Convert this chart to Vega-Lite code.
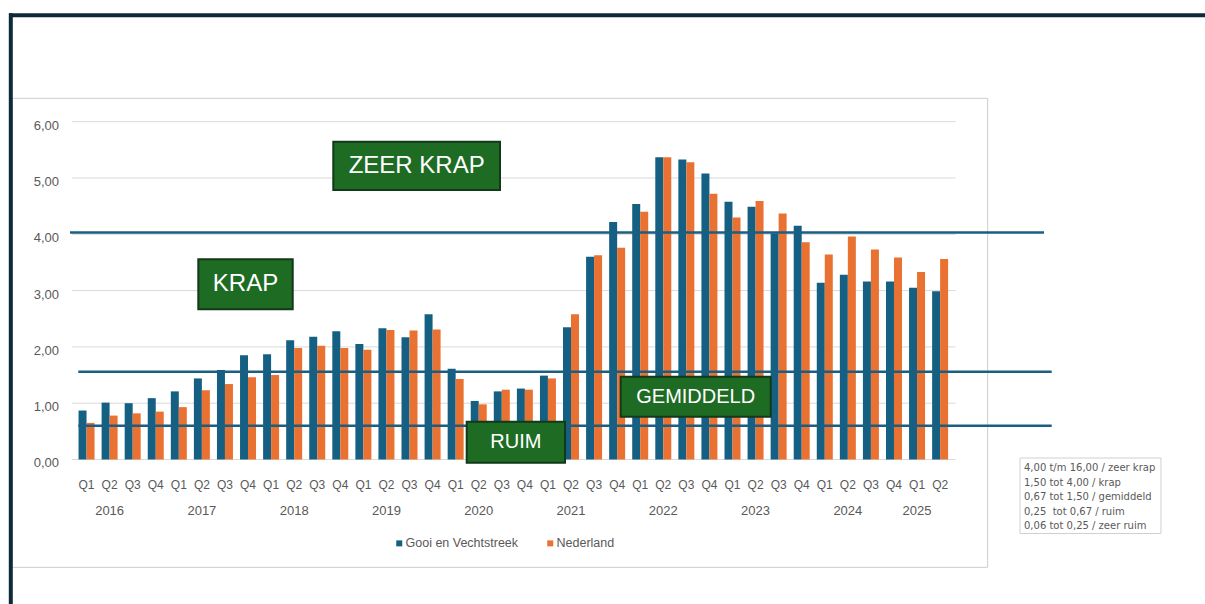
{
  "$schema": "https://vega.github.io/schema/vega-lite/v6.json",
  "width": 1205,
  "height": 604,
  "autosize": "none",
  "padding": 0,
  "background": "#ffffff",
  "config": {
    "view": {"stroke": null},
    "font": "Liberation Sans",
    "axis": {"zindex": 1},
    "locale": {"number": {"decimal": ",", "thousands": ".", "grouping": [3], "currency": ["€", ""]}}
  },
  "datasets": {
    "bars": [
      {"period": "2016 Q1", "series": "Gooi en Vechtstreek", "value": 0.87}, {"period": "2016 Q1", "series": "Nederland", "value": 0.65},
      {"period": "2016 Q2", "series": "Gooi en Vechtstreek", "value": 1.01}, {"period": "2016 Q2", "series": "Nederland", "value": 0.78},
      {"period": "2016 Q3", "series": "Gooi en Vechtstreek", "value": 1.00}, {"period": "2016 Q3", "series": "Nederland", "value": 0.82},
      {"period": "2016 Q4", "series": "Gooi en Vechtstreek", "value": 1.09}, {"period": "2016 Q4", "series": "Nederland", "value": 0.85},
      {"period": "2017 Q1", "series": "Gooi en Vechtstreek", "value": 1.21}, {"period": "2017 Q1", "series": "Nederland", "value": 0.93},
      {"period": "2017 Q2", "series": "Gooi en Vechtstreek", "value": 1.44}, {"period": "2017 Q2", "series": "Nederland", "value": 1.23},
      {"period": "2017 Q3", "series": "Gooi en Vechtstreek", "value": 1.59}, {"period": "2017 Q3", "series": "Nederland", "value": 1.34},
      {"period": "2017 Q4", "series": "Gooi en Vechtstreek", "value": 1.85}, {"period": "2017 Q4", "series": "Nederland", "value": 1.46},
      {"period": "2018 Q1", "series": "Gooi en Vechtstreek", "value": 1.87}, {"period": "2018 Q1", "series": "Nederland", "value": 1.50},
      {"period": "2018 Q2", "series": "Gooi en Vechtstreek", "value": 2.12}, {"period": "2018 Q2", "series": "Nederland", "value": 1.98},
      {"period": "2018 Q3", "series": "Gooi en Vechtstreek", "value": 2.18}, {"period": "2018 Q3", "series": "Nederland", "value": 2.02},
      {"period": "2018 Q4", "series": "Gooi en Vechtstreek", "value": 2.28}, {"period": "2018 Q4", "series": "Nederland", "value": 1.98},
      {"period": "2019 Q1", "series": "Gooi en Vechtstreek", "value": 2.05}, {"period": "2019 Q1", "series": "Nederland", "value": 1.95},
      {"period": "2019 Q2", "series": "Gooi en Vechtstreek", "value": 2.33}, {"period": "2019 Q2", "series": "Nederland", "value": 2.30},
      {"period": "2019 Q3", "series": "Gooi en Vechtstreek", "value": 2.17}, {"period": "2019 Q3", "series": "Nederland", "value": 2.29},
      {"period": "2019 Q4", "series": "Gooi en Vechtstreek", "value": 2.58}, {"period": "2019 Q4", "series": "Nederland", "value": 2.31},
      {"period": "2020 Q1", "series": "Gooi en Vechtstreek", "value": 1.61}, {"period": "2020 Q1", "series": "Nederland", "value": 1.43},
      {"period": "2020 Q2", "series": "Gooi en Vechtstreek", "value": 1.04}, {"period": "2020 Q2", "series": "Nederland", "value": 0.98},
      {"period": "2020 Q3", "series": "Gooi en Vechtstreek", "value": 1.21}, {"period": "2020 Q3", "series": "Nederland", "value": 1.24},
      {"period": "2020 Q4", "series": "Gooi en Vechtstreek", "value": 1.26}, {"period": "2020 Q4", "series": "Nederland", "value": 1.24},
      {"period": "2021 Q1", "series": "Gooi en Vechtstreek", "value": 1.49}, {"period": "2021 Q1", "series": "Nederland", "value": 1.44},
      {"period": "2021 Q2", "series": "Gooi en Vechtstreek", "value": 2.35}, {"period": "2021 Q2", "series": "Nederland", "value": 2.58},
      {"period": "2021 Q3", "series": "Gooi en Vechtstreek", "value": 3.60}, {"period": "2021 Q3", "series": "Nederland", "value": 3.63},
      {"period": "2021 Q4", "series": "Gooi en Vechtstreek", "value": 4.22}, {"period": "2021 Q4", "series": "Nederland", "value": 3.76},
      {"period": "2022 Q1", "series": "Gooi en Vechtstreek", "value": 4.54}, {"period": "2022 Q1", "series": "Nederland", "value": 4.40},
      {"period": "2022 Q2", "series": "Gooi en Vechtstreek", "value": 5.37}, {"period": "2022 Q2", "series": "Nederland", "value": 5.37},
      {"period": "2022 Q3", "series": "Gooi en Vechtstreek", "value": 5.33}, {"period": "2022 Q3", "series": "Nederland", "value": 5.28},
      {"period": "2022 Q4", "series": "Gooi en Vechtstreek", "value": 5.08}, {"period": "2022 Q4", "series": "Nederland", "value": 4.72},
      {"period": "2023 Q1", "series": "Gooi en Vechtstreek", "value": 4.58}, {"period": "2023 Q1", "series": "Nederland", "value": 4.30},
      {"period": "2023 Q2", "series": "Gooi en Vechtstreek", "value": 4.49}, {"period": "2023 Q2", "series": "Nederland", "value": 4.59},
      {"period": "2023 Q3", "series": "Gooi en Vechtstreek", "value": 4.02}, {"period": "2023 Q3", "series": "Nederland", "value": 4.37},
      {"period": "2023 Q4", "series": "Gooi en Vechtstreek", "value": 4.15}, {"period": "2023 Q4", "series": "Nederland", "value": 3.86},
      {"period": "2024 Q1", "series": "Gooi en Vechtstreek", "value": 3.14}, {"period": "2024 Q1", "series": "Nederland", "value": 3.64},
      {"period": "2024 Q2", "series": "Gooi en Vechtstreek", "value": 3.28}, {"period": "2024 Q2", "series": "Nederland", "value": 3.96},
      {"period": "2024 Q3", "series": "Gooi en Vechtstreek", "value": 3.16}, {"period": "2024 Q3", "series": "Nederland", "value": 3.73},
      {"period": "2024 Q4", "series": "Gooi en Vechtstreek", "value": 3.16}, {"period": "2024 Q4", "series": "Nederland", "value": 3.59},
      {"period": "2025 Q1", "series": "Gooi en Vechtstreek", "value": 3.05}, {"period": "2025 Q1", "series": "Nederland", "value": 3.33},
      {"period": "2025 Q2", "series": "Gooi en Vechtstreek", "value": 2.99}, {"period": "2025 Q2", "series": "Nederland", "value": 3.56}
    ],
    "thresholds": [
      {"x": -0.217, "x2": 42.003, "y": 4.03},
      {"x": 0.143, "x2": 42.336, "y": 1.56},
      {"x": 0.143, "x2": 42.336, "y": 0.60}
    ],
    "boxes": [
      {"label": "ZEER KRAP", "x": 11.196, "x2": 18.422, "y": 5.645, "y2": 4.787, "tx": 14.809, "ty": 5.216},
      {"label": "KRAP", "x": 5.345, "x2": 9.437, "y": 3.556, "y2": 2.668, "tx": 7.391, "ty": 3.112},
      {"label": "GEMIDDELD", "x": 23.654, "x2": 30.156, "y": 1.471, "y2": 0.760, "tx": 26.905, "ty": 1.115},
      {"label": "RUIM", "x": 16.979, "x2": 21.240, "y": 0.671, "y2": -0.057, "tx": 19.11, "ty": 0.307}
    ],
    "grid": [{"v": 0}, {"v": 1}, {"v": 2}, {"v": 3}, {"v": 4}, {"v": 5}, {"v": 6}],
    "one": [{"text": "4,00 t/m 16,00 / zeer krap\n1,50 tot 4,00 / krap\n0,67 tot 1,50 / gemiddeld\n0,25\u00a0 tot 0,67 / ruim\n0,06 tot 0,25 / zeer ruim"}]
  },
  "layer": [
    {
      "layer": [
        {
          "data": {"name": "one"},
          "mark": {"type": "rect", "fill": "transparent", "stroke": "#cdcdcd", "strokeWidth": 1},
          "encoding": {
            "x": {"datum": -2.731, "type": "quantitative", "scale": {"type": "linear", "domain": [-3.251, 48.9814], "nice": false, "zero": false}, "axis": null},
            "x2": {"datum": 39.561},
            "y": {"datum": 6.416, "type": "quantitative", "scale": {"domain": [-2.5666, 8.1616], "nice": false, "zero": false}, "axis": null},
            "y2": {"datum": -1.915}
          }
        },
        {
          "data": {"name": "one"},
          "mark": {"type": "rule", "stroke": "#0d2a3a", "strokeWidth": 4},
          "encoding": {
            "x": {"datum": -2.861, "type": "quantitative", "scale": {"type": "linear", "domain": [-3.251, 48.9814], "nice": false, "zero": false}, "axis": null},
            "x2": {"datum": 48.9814},
            "y": {"datum": 7.89, "type": "quantitative", "scale": {"domain": [-2.5666, 8.1616], "nice": false, "zero": false}, "axis": null}
          }
        },
        {
          "data": {"name": "one"},
          "mark": {"type": "rule", "stroke": "#0d2a3a", "strokeWidth": 4},
          "encoding": {
            "x": {"datum": -2.783, "type": "quantitative", "scale": {"type": "linear", "domain": [-3.251, 48.9814], "nice": false, "zero": false}, "axis": null},
            "y": {"datum": 7.925, "type": "quantitative", "scale": {"domain": [-2.5666, 8.1616], "nice": false, "zero": false}, "axis": null},
            "y2": {"datum": -2.5666}
          }
        },
        {
          "data": {"name": "grid"},
          "mark": {"type": "rule", "stroke": "#d9d9d9", "strokeWidth": 1},
          "encoding": {
            "x": {"datum": -0.13, "type": "quantitative", "scale": {"type": "linear", "domain": [-3.251, 48.9814], "nice": false, "zero": false}, "axis": null},
            "x2": {"datum": 38.17},
            "y": {"field": "v", "type": "quantitative", "scale": {"domain": [-2.5666, 8.1616], "nice": false, "zero": false}, "axis": null}
          }
        },
        {
          "data": {"name": "grid"},
          "mark": {"type": "text", "align": "right", "baseline": "middle", "dy": 4, "fontSize": 13, "color": "#595959"},
          "encoding": {
            "x": {"datum": -0.6935, "type": "quantitative", "scale": {"type": "linear", "domain": [-3.251, 48.9814], "nice": false, "zero": false}, "axis": null},
            "y": {"field": "v", "type": "quantitative", "scale": {"domain": [-2.5666, 8.1616], "nice": false, "zero": false}, "axis": null},
            "text": {"field": "v", "type": "quantitative", "format": ".2f"}
          }
        }
      ]
    },
    {
      "layer": [
        {
          "data": {"name": "bars"},
          "mark": {"type": "bar"},
          "encoding": {
            "x": {
              "field": "period", "type": "nominal",
              "scale": {"type": "band", "range": [75, 951.66], "paddingInner": 0, "paddingOuter": 0, "round": false},
              "axis": {"orient": "bottom", "offset": -144.5, "labelExpr": "slice(datum.value, 5)", "ticks": false, "domain": false, "grid": false, "title": null, "labelPadding": 20, "labelFontSize": 12, "labelColor": "#595959", "labelAngle": 0}
            },
            "xOffset": {"field": "series", "type": "nominal", "scale": {"paddingInner": 0, "paddingOuter": 0.4425}},
            "y": {
              "field": "value", "type": "quantitative",
              "scale": {"domain": [-2.5666, 8.1616], "nice": false, "zero": false},
              "axis": null
            },
            "y2": {"datum": 0},
            "color": {
              "field": "series", "type": "nominal",
              "scale": {"domain": ["Gooi en Vechtstreek", "Nederland"], "range": ["#156082", "#E97132"]},
              "legend": {"orient": "none", "legendX": 393, "legendY": 537, "direction": "horizontal", "title": null, "symbolType": "square", "symbolSize": 36, "symbolStrokeWidth": 0, "labelFontSize": 12.5, "labelColor": "#595959", "labelOffset": 0, "columnPadding": 25, "padding": 0}
            }
          }
        },
        {
          "data": {"name": "bars"},
          "mark": {"type": "tick", "opacity": 0},
          "encoding": {
            "x": {
              "field": "period", "type": "nominal",
              "scale": {"type": "band", "range": [75, 951.66], "paddingInner": 0, "paddingOuter": 0, "round": false},
              "axis": {"orient": "bottom", "offset": -144.5, "values": ["2016 Q2", "2017 Q2", "2018 Q2", "2019 Q2", "2020 Q2", "2021 Q2", "2022 Q2", "2023 Q2", "2024 Q2", "2025 Q1"], "bandPosition": 1, "labelExpr": "slice(datum.value, 0, 4)", "ticks": false, "domain": false, "grid": false, "title": null, "labelPadding": 45, "labelFontSize": 13, "labelColor": "#595959", "labelAngle": 0}
            }
          }
        }
      ],
      "resolve": {"axis": {"x": "independent"}}
    },
    {
      "layer": [
        {
          "data": {"name": "thresholds"},
          "mark": {"type": "rule", "stroke": "#1a5f82", "strokeWidth": 2.5},
          "encoding": {
            "x": {"field": "x", "type": "quantitative", "scale": {"type": "linear", "domain": [-3.251, 48.9814], "nice": false, "zero": false}, "axis": null},
            "x2": {"field": "x2"},
            "y": {"field": "y", "type": "quantitative", "scale": {"domain": [-2.5666, 8.1616], "nice": false, "zero": false}, "axis": null}
          }
        },
        {
          "data": {"name": "boxes"},
          "mark": {"type": "rect", "fill": "#1e6b24", "stroke": "#11391a", "strokeWidth": 2},
          "encoding": {
            "x": {"field": "x", "type": "quantitative", "scale": {"type": "linear", "domain": [-3.251, 48.9814], "nice": false, "zero": false}, "axis": null},
            "x2": {"field": "x2"},
            "y": {"field": "y", "type": "quantitative", "scale": {"domain": [-2.5666, 8.1616], "nice": false, "zero": false}, "axis": null},
            "y2": {"field": "y2"}
          }
        },
        {
          "data": {"name": "boxes"},
          "transform": [{"filter": "datum.label == 'ZEER KRAP' || datum.label == 'KRAP'"}],
          "mark": {"type": "text", "color": "#ffffff", "fontSize": 24, "align": "center", "baseline": "middle"},
          "encoding": {
            "x": {"field": "tx", "type": "quantitative", "scale": {"type": "linear", "domain": [-3.251, 48.9814], "nice": false, "zero": false}, "axis": null},
            "y": {"field": "ty", "type": "quantitative", "scale": {"domain": [-2.5666, 8.1616], "nice": false, "zero": false}, "axis": null},
            "text": {"field": "label"}
          }
        },
        {
          "data": {"name": "boxes"},
          "transform": [{"filter": "datum.label == 'GEMIDDELD' || datum.label == 'RUIM'"}],
          "mark": {"type": "text", "color": "#ffffff", "fontSize": 20, "align": "center", "baseline": "middle"},
          "encoding": {
            "x": {"field": "tx", "type": "quantitative", "scale": {"type": "linear", "domain": [-3.251, 48.9814], "nice": false, "zero": false}, "axis": null},
            "y": {"field": "ty", "type": "quantitative", "scale": {"domain": [-2.5666, 8.1616], "nice": false, "zero": false}, "axis": null},
            "text": {"field": "label"}
          }
        },
        {
          "data": {"name": "one"},
          "mark": {"type": "rect", "fill": "#ffffff", "stroke": "#d0d0d0", "strokeWidth": 1},
          "encoding": {
            "x": {"datum": 40.962, "type": "quantitative", "scale": {"type": "linear", "domain": [-3.251, 48.9814], "nice": false, "zero": false}, "axis": null},
            "x2": {"datum": 47.074},
            "y": {"datum": 0.0266, "type": "quantitative", "scale": {"domain": [-2.5666, 8.1616], "nice": false, "zero": false}, "axis": null},
            "y2": {"datum": -1.3144}
          }
        },
        {
          "data": {"name": "one"},
          "mark": {"type": "text", "font": "DejaVu Sans", "fontSize": 10, "color": "#595959", "align": "left", "baseline": "top", "lineBreak": "\n", "lineHeight": 14.4},
          "encoding": {
            "x": {"datum": 41.136, "type": "quantitative", "scale": {"type": "linear", "domain": [-3.251, 48.9814], "nice": false, "zero": false}, "axis": null},
            "y": {"datum": -0.071, "type": "quantitative", "scale": {"domain": [-2.5666, 8.1616], "nice": false, "zero": false}, "axis": null},
            "text": {"field": "text"}
          }
        }
      ]
    }
  ],
  "resolve": {"scale": {"x": "independent"}}
}
